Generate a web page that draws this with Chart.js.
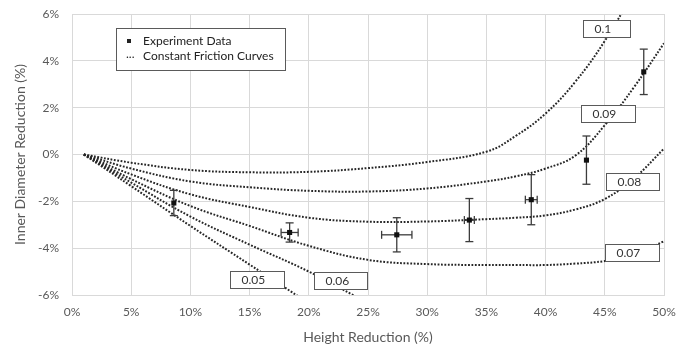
<!DOCTYPE html>
<html><head><meta charset="utf-8">
<script src="https://cdn.jsdelivr.net/npm/chart.js@4/dist/chart.umd.min.js"></script>
<style>html,body{margin:0;padding:0;background:#fff}canvas{display:block}</style>
</head><body>
<canvas id="c" width="694" height="354"></canvas>
<script>
// ---- data (percent units) ----
const curveX = [1, 5, 10, 15, 20, 25, 30, 35, 37.5, 40, 42.5, 45, 47.5, 50];
const curve005 = [0, -1.35, -3.05, -4.7, -6.35, null, null, null, null, null, null, null, null, null];
const curve006 = [0, -1.2, -2.65, -3.85, -5.0, -6.35, null, null, null, null, null, null, null, null];
const curve007 = [0, -1.05, -2.2, -3.05, -3.9, -4.5, -4.68, -4.72, -4.72, -4.72, -4.66, -4.55, -4.3, -3.7];
const curve008 = [0, -0.85, -1.7, -2.24, -2.7, -2.87, -2.86, -2.76, -2.7, -2.6, -2.35, -1.9, -1.0, 0.25];
const curve009 = [0, -0.6, -1.15, -1.4, -1.55, -1.58, -1.45, -1.15, -0.93, -0.6, -0.05, 1.25, 2.9, 4.75];
const curve010 = [0, -0.35, -0.66, -0.76, -0.74, -0.58, -0.32, 0.12, 0.8, 1.75, 3.1, 4.85, 7.0, 9.3];
const frictionLabels = ['0.05', '0.06', '0.07', '0.08', '0.09', '0.1'];

const expX = [8.6, 18.38, 27.43, 33.56, 38.79, 43.45, 48.29];
const expY = [-2.07, -3.33, -3.43, -2.8, -1.93, -0.24, 3.53];
const expXErr = [0, 0.72, 1.28, 0.42, 0.5, 0, 0];
const expYErr = [0.54, 0.41, 0.73, 0.92, 1.07, 1.03, 0.97];

const xTicks = [0, 5, 10, 15, 20, 25, 30, 35, 40, 45, 50];
const yTicks = [-6, -4, -2, 0, 2, 4, 6];

const legendLabels = ['Experiment Data', 'Constant Friction Curves'];
const xTitle = 'Height Reduction (%)';
const yTitle = 'Inner Diameter Reduction (%)';

// ---- build ----
const FONT = 'Lato, "Open Sans", sans-serif';
const curves = [curve005, curve006, curve007, curve008, curve009, curve010];

const curveDatasets = curves.map((ys, k) => ({
  type: 'line',
  label: frictionLabels[k],
  data: curveX.map((x, i) => ({ x: x, y: ys[i] })),
  borderColor: '#262626',
  borderWidth: 2,
  borderDash: [1.8, 1.6],
  borderCapStyle: 'butt',
  pointRadius: 0,
  fill: false,
  tension: 0.4,
  spanGaps: false
}));

const expDataset = {
  type: 'scatter',
  label: legendLabels[0],
  isExp: true,
  data: expX.map((x, i) => ({ x: x, y: expY[i] })),
  pointStyle: 'rect',
  pointRadius: 3.6,
  backgroundColor: '#111',
  borderColor: '#111',
  borderWidth: 0,
  showLine: false
};

// label anchors in data units (annotation placement)
const labelAnchors = {
  '0.05': [15.6, -5.32, 54],
  '0.06': [22.66, -5.4, 53],
  '0.07': [47.3, -4.19, 54],
  '0.08': [47.34, -1.16, 53],
  '0.09': [45.27, 1.74, 54],
  '0.1': [45.13, 5.4, 47]
};

const errorBars = {
  id: 'errorBars',
  beforeDatasetDraw(chart, args) {
    const ds = chart.data.datasets[args.index];
    if (!ds.isExp) return;
    const xs = chart.scales.x, ys = chart.scales.y, ctx = chart.ctx;
    ctx.save();
    ctx.strokeStyle = '#3c3c3c';
    ctx.lineWidth = 1.3;
    const seg = (a, b, c, d) => { ctx.beginPath(); ctx.moveTo(a, b); ctx.lineTo(c, d); ctx.stroke(); };
    expX.forEach((xv, i) => {
      const px = xs.getPixelForValue(xv), py = ys.getPixelForValue(expY[i]);
      if (expYErr[i] > 0) {
        const t = ys.getPixelForValue(expY[i] + expYErr[i]);
        const b = ys.getPixelForValue(expY[i] - expYErr[i]);
        seg(px, t, px, b); seg(px - 4, t, px + 4, t); seg(px - 4, b, px + 4, b);
      }
      if (expXErr[i] > 0) {
        const l = xs.getPixelForValue(xv - expXErr[i]);
        const r = xs.getPixelForValue(xv + expXErr[i]);
        seg(l, py, r, py); seg(l, py - 4, l, py + 4); seg(r, py - 4, r, py + 4);
      }
    });
    ctx.restore();
  }
};

const labelsAndLegend = {
  id: 'labelsAndLegend',
  afterDatasetsDraw(chart) {
    const xs = chart.scales.x, ys = chart.scales.y, ctx = chart.ctx, ca = chart.chartArea;
    ctx.save();
    ctx.font = '12px ' + FONT;
    ctx.textBaseline = 'middle';
    frictionLabels.forEach(lbl => {
      const [ax, ay, w] = labelAnchors[lbl];
      const cx = xs.getPixelForValue(ax), cy = ys.getPixelForValue(ay);
      const h = 17;
      const x0 = Math.round(cx - w / 2) + 0.5, y0 = Math.round(cy - h / 2) + 0.5;
      ctx.fillStyle = '#fff';
      ctx.fillRect(x0, y0, w, h);
      ctx.strokeStyle = '#5a5a5a';
      ctx.lineWidth = 1;
      ctx.strokeRect(x0, y0, w, h);
      ctx.fillStyle = '#333';
      ctx.textAlign = 'left';
      ctx.fillText(lbl, x0 + 11, y0 + h / 2 + 0.5);
    });
    // legend box
    const lx = ca.left + 44, ly = ca.top + 14, lw = 169, lh = 42;
    ctx.fillStyle = '#fff';
    ctx.fillRect(lx + 0.5, ly + 0.5, lw, lh);
    ctx.strokeStyle = '#5a5a5a';
    ctx.strokeRect(lx + 0.5, ly + 0.5, lw, lh);
    ctx.font = '12px ' + FONT;
    ctx.fillStyle = '#222';
    ctx.fillRect(lx + 11, ly + 11, 4, 4);
    ctx.fillText('...', lx + 10, ly + 26);
    ctx.fillText(legendLabels[0], lx + 27, ly + 13);
    ctx.fillText(legendLabels[1], lx + 27, ly + 28.5);
    ctx.restore();
  }
};

new Chart(document.getElementById('c'), {
  type: 'scatter',
  data: { datasets: [expDataset].concat(curveDatasets) },
  options: {
    responsive: false,
    animation: false,
    layout: { padding: { left: 0, right: 30, top: 14, bottom: 0 } },
    plugins: { legend: { display: false }, tooltip: { enabled: false } },
    scales: {
      x: {
        type: 'linear', min: 0, max: 50,
        afterBuildTicks: s => { s.ticks = xTicks.map(v => ({ value: v })); },
        afterFit: s => { s.height = 59; s.paddingLeft = 0; s.paddingRight = 0; },
        grid: { color: '#d9d9d9', lineWidth: 1, drawTicks: false },
        border: { color: '#d9d9d9' },
        ticks: { padding: 10, color: '#595959', font: { family: FONT, size: 12 }, callback: v => v + '%' },
        title: { display: true, text: xTitle, color: '#595959', font: { family: FONT, size: 14 }, padding: { top: 0, bottom: 8 } }
      },
      y: {
        type: 'linear', min: -6, max: 6,
        afterBuildTicks: s => { s.ticks = yTicks.map(v => ({ value: v })); },
        afterFit: s => { s.width = 72; s.paddingTop = 0; s.paddingBottom = 0; },
        grid: { color: '#d9d9d9', lineWidth: 1, drawTicks: false },
        border: { color: '#d9d9d9' },
        ticks: { padding: 13, color: '#595959', font: { family: FONT, size: 12 }, callback: v => v + '%' },
        title: { display: true, text: yTitle, color: '#595959', font: { family: FONT, size: 14 }, padding: { top: 12, bottom: 0 } }
      }
    }
  },
  plugins: [errorBars, labelsAndLegend]
});
</script>
</body></html>
